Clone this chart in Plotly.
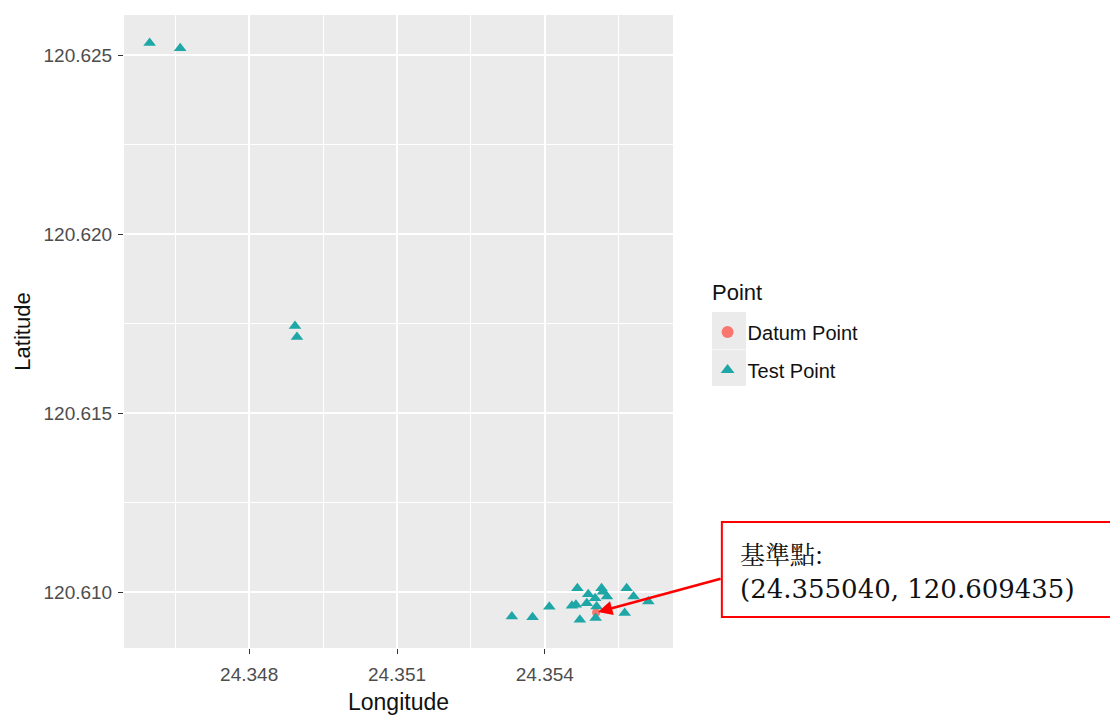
import plotly.graph_objects as go

# Reference (datum) point
datum_lon = [24.355040]
datum_lat = [120.609435]

# Test points
test_lon = [24.34598, 24.34660, 24.34893, 24.34897, 24.35333, 24.35375, 24.35409,
            24.35466, 24.35488, 24.35455, 24.35471, 24.35515, 24.35518, 24.35502,
            24.35526, 24.35485, 24.35505, 24.35503, 24.35566, 24.35580, 24.35610,
            24.35562, 24.35463]
test_lat = [120.62535, 120.62520, 120.61744, 120.61713, 120.60932, 120.60930, 120.60959,
            120.61011, 120.60994, 120.60962, 120.60923, 120.61011, 120.61001, 120.60983,
            120.60988, 120.60969, 120.60960, 120.60928, 120.61011, 120.60988, 120.60974,
            120.60942, 120.60965]

x_ticks = [24.348, 24.351, 24.354]
x_tick_text = ["24.348", "24.351", "24.354"]
y_ticks = [120.610, 120.615, 120.620, 120.625]
y_tick_text = ["120.610", "120.615", "120.620", "120.625"]

label_line1 = "基準點:"
label_line2 = "(24.355040, 120.609435)"

SANS = "Liberation Sans, Arial, sans-serif"

fig = go.Figure()
fig.add_trace(go.Scatter(
    x=datum_lon, y=datum_lat, mode="markers", name="Datum Point",
    legendgroup="datum",
    marker=dict(symbol="circle", size=8, color="#F8766D"),
))
fig.add_trace(go.Scatter(
    x=test_lon, y=test_lat, mode="markers", name="Test Point",
    legendgroup="test",
    marker=dict(symbol="triangle-up", size=11, color="#1FA6A6"),
))

axis_common = dict(
    showgrid=True, gridcolor="white", gridwidth=1.6,
    zeroline=False, showline=False, automargin=False,
    ticks="outside", ticklen=5, tickwidth=1, tickcolor="#333333",
    tickfont=dict(family=SANS, size=19, color="#4D4D4D"),
)

fig.update_xaxes(
    range=[24.34546, 24.35660], tickvals=x_ticks, ticktext=x_tick_text,
    minor=dict(dtick=0.0015, tick0=24.3465, showgrid=True, gridcolor="white",
               gridwidth=0.8, ticks=""),
    ticklabelstandoff=4,
    title=dict(text="Longitude", standoff=10,
               font=dict(family=SANS, size=23, color="#111111")),
    **axis_common,
)
fig.update_yaxes(
    range=[120.60844, 120.62613], tickvals=y_ticks, ticktext=y_tick_text,
    minor=dict(dtick=0.0025, tick0=120.6075, showgrid=True, gridcolor="white",
               gridwidth=0.8, ticks=""),
    ticklabelstandoff=2,
    title=dict(text="Latitude", standoff=6,
               font=dict(family=SANS, size=22, color="#111111")),
    **axis_common,
)

# Grey key backgrounds behind the legend symbols
for y0, y1 in [(0.472, 0.531), (0.414, 0.471)]:
    fig.add_shape(type="rect", xref="paper", yref="paper",
                  x0=1.071, x1=1.133, y0=y0, y1=y1,
                  fillcolor="#EBEBEB", line=dict(width=0), layer="below")

# Legend title
fig.add_annotation(
    xref="paper", yref="paper", x=1.067, y=0.561, xanchor="left", yanchor="middle",
    text="Point", showarrow=False,
    font=dict(family=SANS, size=22, color="#111111"),
)

# Callout box with the datum coordinates
fig.add_shape(type="rect", xref="paper", yref="paper",
              x0=1.089, x1=1.82, y0=0.049, y1=0.199,
              fillcolor="white", line=dict(color="#FF0000", width=2))
fig.add_annotation(
    xref="paper", yref="paper", x=1.118, y=0.124, xanchor="left", yanchor="middle",
    text=(f"<span style='font-family:Noto Serif CJK TC, Noto Sans CJK TC;font-size:25px'>{label_line1}</span>"
          f"<br>{label_line2}"),
    showarrow=False, align="left",
    font=dict(family="DejaVu Serif, serif", size=26, color="#111111"),
)
fig.add_annotation(
    x=datum_lon[0], y=datum_lat[0], xref="x", yref="y",
    ax=126, ay=-34, axref="pixel", ayref="pixel",
    text="", showarrow=True, arrowhead=2, arrowsize=1.1, arrowwidth=2.6,
    arrowcolor="#FF0000", standoff=2,
)

fig.update_layout(
    width=1110, height=716,
    margin=dict(l=124, r=437, t=15, b=68, autoexpand=False),
    paper_bgcolor="white", plot_bgcolor="#EBEBEB",
    showlegend=True,
    legend=dict(
        x=1.063, y=0.53, xanchor="left", yanchor="top",
        title=dict(text=""),
        font=dict(family=SANS, size=20, color="#111111"),
        bgcolor="rgba(0,0,0,0)", tracegroupgap=9, itemsizing="constant",
    ),
)

fig.write_html("out.html")
